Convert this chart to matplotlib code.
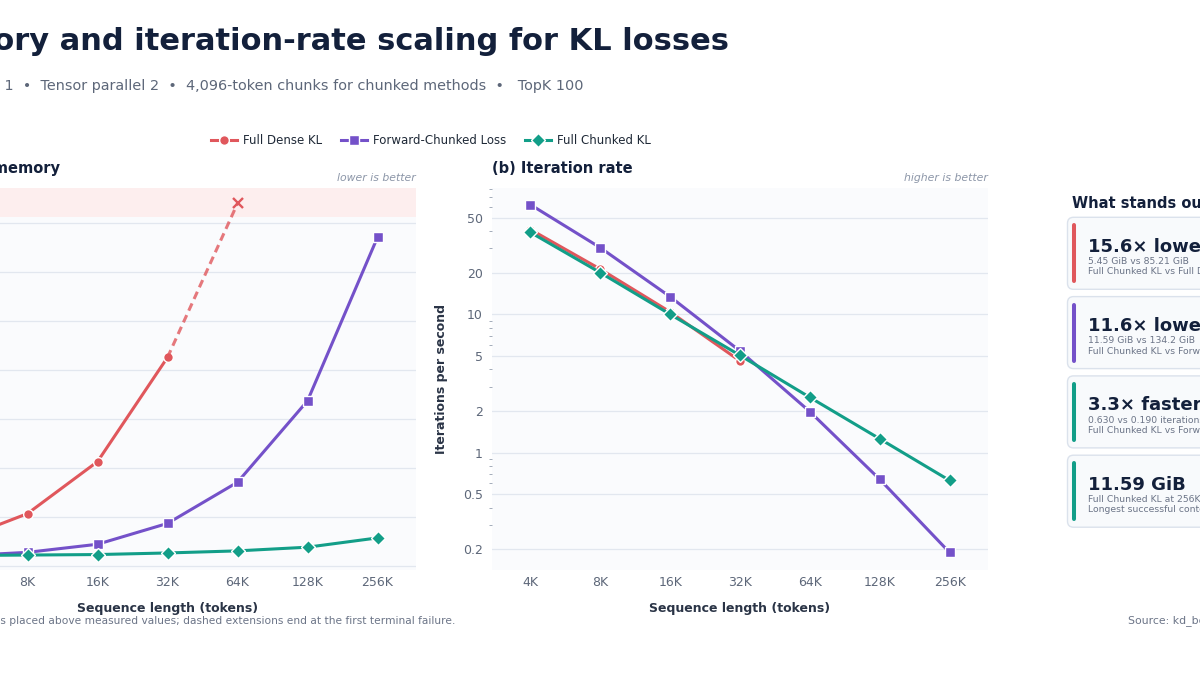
import matplotlib
matplotlib.use("Agg")
import matplotlib.pyplot as plt
from matplotlib.patches import FancyBboxPatch
from matplotlib.lines import Line2D
from matplotlib.ticker import FixedLocator, LogLocator, NullFormatter

# ---- data ----
seq_labels = ["4K", "8K", "16K", "32K", "64K", "128K", "256K"]

# peak memory (GiB); Full Dense KL fails at 64K
mem_dense = [10.5, 21.5, 42.7, 85.21]
mem_dense_oom = 148.0          # failure marker, drawn above measured values
mem_forward = [4.2, 5.7, 9.0, 17.5, 34.3, 67.5, 134.2]
mem_full = [4.4, 4.6, 4.8, 5.45, 6.3, 7.8, 11.59]

# iterations per second
rate_dense = [41.0, 21.2, 10.4, 4.6]
rate_forward = [62.0, 30.3, 13.4, 5.43, 1.98, 0.642, 0.190]
rate_full = [39.1, 20.0, 10.0, 5.05, 2.51, 1.26, 0.630]
rate_ticks = [0.2, 0.5, 1, 2, 5, 10, 20, 50]
rate_tick_labels = ["0.2", "0.5", "1", "2", "5", "10", "20", "50"]

card_headlines = ["15.6\u00d7 lower peak memory", "11.6\u00d7 lower peak memory",
                  "3.3\u00d7 faster at 256K", "11.59 GiB"]
card_line1 = ["5.45 GiB vs 85.21 GiB", "11.59 GiB vs 134.2 GiB",
              "0.630 vs 0.190 iterations/s", "Full Chunked KL at 256K"]
card_line2 = ["Full Chunked KL vs Full Dense KL at 32K",
              "Full Chunked KL vs Forward-Chunked Loss at 256K",
              "Full Chunked KL vs Forward-Chunked Loss at 256K",
              "Longest successful context tested"]

RED = "#e0575c"
PURPLE = "#7451c9"
TEAL = "#129e88"
card_colors = [RED, PURPLE, TEAL, TEAL]

NAVY = "#13203b"
GRAY = "#5d6779"
LIGHT = "#8c96a8"
GRID = "#e2e7ef"
PANEL_BG = "#fafbfd"

W, H = 1200, 675


def box(left, top, right, bottom):
    # pixel box -> figure rect
    return [left / W, 1 - bottom / H, (right - left) / W, (bottom - top) / H]


plt.rcParams["font.family"] = ["DejaVu Sans"]
fig = plt.figure(figsize=(12, 6.75), dpi=100, facecolor="white")

ax1 = fig.add_axes(box(-81, 188, 416, 570))
ax2 = fig.add_axes(box(492, 188, 988, 570))

x = list(range(len(seq_labels)))
line_kw = dict(lw=2.2, markeredgecolor="white", markeredgewidth=1.0)

for ax in (ax1, ax2):
    ax.set_facecolor(PANEL_BG)
    for s in ax.spines.values():
        s.set_visible(False)
    ax.set_axisbelow(True)
    ax.grid(axis="y", color=GRID, lw=0.9)
    ax.set_xticks(x)
    ax.set_xticklabels(seq_labels)
    ax.set_xlim(-0.55, 6.55)
    ax.tick_params(axis="x", length=0, pad=4, labelsize=9, labelcolor=GRAY)
    ax.tick_params(axis="y", which="major", length=0, pad=6.5, labelsize=9, labelcolor=GRAY)
    ax.set_xlabel("Sequence length (tokens)", fontsize=9, fontweight="bold",
                  color="#2a3446", labelpad=10)

# (a) peak memory
ax1.set_ylim(-1.5, 154.3)
ax1.set_yticks(range(0, 141, 20))
ax1.axhspan(142.5, 160, color="#fdeeee", zorder=0, lw=0)
ax1.plot(x[:4], mem_dense, color=RED, marker="o", ms=7, **line_kw)
ax1.plot([3, 4], [mem_dense[-1], mem_dense_oom], color=RED, lw=2.2, alpha=0.8,
         ls=(0, (2.6, 1.6)))
ax1.plot([4], [mem_dense_oom], color=RED, marker="x", ms=6.5, mew=1.7, ls="none")
ax1.plot(x, mem_forward, color=PURPLE, marker="s", ms=6.5, **line_kw)
ax1.plot(x, mem_full, color=TEAL, marker="D", ms=7, **line_kw)
ax1.set_ylabel("Peak memory (GiB)", fontsize=9, fontweight="bold", color="#2a3446")
ax1.set_title("(a) Peak memory", loc="left", fontsize=10.5, fontweight="bold",
              color=NAVY, pad=10.5)
ax1.text(1.0, 1.014, "lower is better", transform=ax1.transAxes, ha="right",
         va="bottom", fontsize=7.8, style="italic", color=LIGHT)

# (b) iteration rate
ax2.set_yscale("log")
ax2.set_ylim(0.142, 81.8)
ax2.yaxis.set_major_locator(FixedLocator(rate_ticks))
ax2.set_yticklabels(rate_tick_labels)
ax2.yaxis.set_minor_locator(LogLocator(base=10, subs=range(2, 10)))
ax2.yaxis.set_minor_formatter(NullFormatter())
ax2.tick_params(axis="y", which="minor", length=2.2, width=0.7, color="#a3acba")
ax2.plot(x[:4], rate_dense, color=RED, marker="o", ms=7, **line_kw)
ax2.plot(x, rate_forward, color=PURPLE, marker="s", ms=6.5, **line_kw)
ax2.plot(x, rate_full, color=TEAL, marker="D", ms=7, **line_kw)
ax2.set_ylabel("Iterations per second", fontsize=9, fontweight="bold",
               color="#2a3446", labelpad=11)
ax2.set_title("(b) Iteration rate", loc="left", fontsize=10.5, fontweight="bold",
              color=NAVY, pad=10.5)
ax2.text(1.0, 1.014, "higher is better", transform=ax2.transAxes, ha="right",
         va="bottom", fontsize=7.8, style="italic", color=LIGHT)

# legend
handles = [
    Line2D([], [], color=RED, marker="o", ms=7, **line_kw),
    Line2D([], [], color=PURPLE, marker="s", ms=6.5, **line_kw),
    Line2D([], [], color=TEAL, marker="D", ms=7, **line_kw),
]
fig.legend(handles, ["Full Dense KL", "Forward-Chunked Loss", "Full Chunked KL"],
           loc="center", bbox_to_anchor=(431 / W, 1 - 141 / H), ncol=3,
           frameon=False, fontsize=8.5, handlelength=2.2, handletextpad=0.5,
           columnspacing=1.6, labelcolor="#1f2937")

# overlay in pixel coordinates for titles, notes and cards
ov = fig.add_axes([0, 0, 1, 1], zorder=5)
ov.set_xlim(0, W)
ov.set_ylim(H, 0)
ov.axis("off")

ov.text(729, 41, "Peak memory and iteration-rate scaling for KL losses", ha="right",
        va="center", fontsize=22, fontweight="bold", color=NAVY)
ov.text(583, 86, "Batch size 1  \u2022  Tensor parallel 2  \u2022  4,096-token chunks "
        "for chunked methods  \u2022   TopK 100", ha="right", va="center",
        fontsize=10.4, color=GRAY)
ov.text(455, 621, "Note: the OOM marker is placed above measured values; dashed "
        "extensions end at the first terminal failure.", ha="right", va="center",
        fontsize=7.65, color="#6b7487")
ov.text(1127.5, 621, "Source: kd_bench sequence-length sweep", ha="left",
        va="center", fontsize=7.8, color="#6b7487")

ov.text(1071.5, 208, "What stands out", ha="left", va="baseline", fontsize=10.5,
        fontweight="bold", color=NAVY)

card_top = 217.3
card_pitch = 79.3
card_h = 72
for i in range(4):
    top = card_top + i * card_pitch
    ov.add_patch(FancyBboxPatch((1067.5, top), 200, card_h,
                                boxstyle="round,pad=0,rounding_size=6",
                                facecolor="#f8fafc", edgecolor="#dbe2ec", lw=1.0))
    ov.plot([1073.7, 1073.7], [top + 8, top + card_h - 8], color=card_colors[i],
            lw=2.9, solid_capstyle="round")
    ov.text(1087.5, top + 34.4, card_headlines[i], ha="left", va="baseline",
            fontsize=13, fontweight="bold", color=NAVY)
    ov.text(1087.5, top + 46.5, card_line1[i], ha="left", va="baseline",
            fontsize=6.7, color="#6b7487")
    ov.text(1087.5, top + 57, card_line2[i], ha="left", va="baseline",
            fontsize=6.7, color="#6b7487")

fig.savefig("out.png", dpi=100, facecolor="white")
